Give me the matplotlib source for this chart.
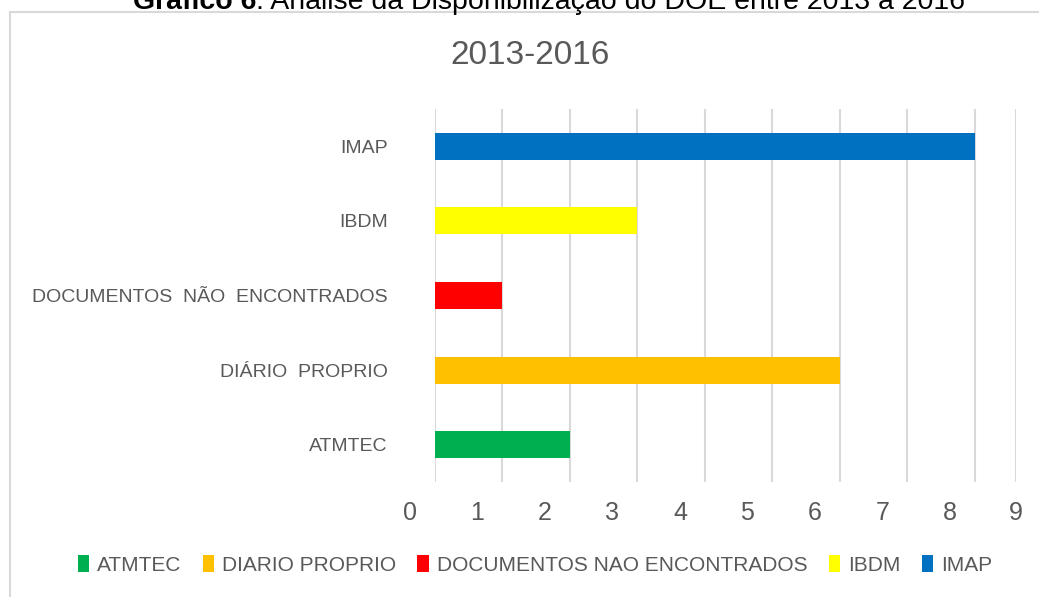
import matplotlib
matplotlib.use('Agg')
import matplotlib.pyplot as plt
from matplotlib.patches import Patch, Rectangle
from matplotlib.transforms import ScaledTranslation

# data (bottom to top, as in the chart)
categories = ['ATMTEC', 'DIÁRIO  PROPRIO', 'DOCUMENTOS  NÃO  ENCONTRADOS', 'IBDM', 'IMAP']
values = [2, 6, 1, 3, 8]
colors = ['#00B050', '#FFC000', '#FF0000', '#FFFF00', '#0070C0']
legend_labels = ['ATMTEC', 'DIARIO PROPRIO', 'DOCUMENTOS NAO ENCONTRADOS', 'IBDM', 'IMAP']
tick_labels = [str(i) for i in range(10)]

plt.rcParams['font.family'] = ['Liberation Sans', 'DejaVu Sans']
txt = '#595959'
grid_c = '#D9D9D9'

fig = plt.figure(figsize=(10.39, 5.97), dpi=100)
fig.patch.set_facecolor('white')

# chart frame (cut off at right and bottom in the source)
fig.patches.append(Rectangle((10 / 1039, -0.1), 1.2, 1 - 12 / 597 + 0.1,
                             transform=fig.transFigure, fill=False,
                             edgecolor=grid_c, linewidth=1.5))

ax = fig.add_axes([435 / 1039, 1 - 482 / 597, (1016 - 435) / 1039, (482 - 109) / 597])
xmax = 8.61
ax.barh(range(len(values)), values, height=0.36, color=colors, zorder=3)

# gridlines at 0..8 plus one at the cut edge, labelled 0..9
ax.set_xticks(list(range(9)) + [xmax])
ax.set_xticklabels(tick_labels, fontsize=18, color=txt)
ax.set_xlim(0, xmax)
ax.set_ylim(-0.5, len(values) - 0.5)
ax.grid(axis='x', color=grid_c, linewidth=1.5, zorder=0)
ax.tick_params(axis='x', length=0, pad=14)

# in the source the numbers sit left of their gridlines
shift = ScaledTranslation(-25 / 100, 0, fig.dpi_scale_trans)
for lab in ax.get_xticklabels()[:-1]:
    lab.set_transform(lab.get_transform() + shift)

ax.set_yticks(range(len(categories)))
ax.set_yticklabels(categories, fontsize=14, color=txt)
ax.tick_params(axis='y', length=0, pad=34)

for s in ax.spines.values():
    s.set_visible(False)

fig.text(0.51, 1 - 55 / 597, '2013-2016', ha='center', va='center',
         fontsize=24, color=txt)

# document caption, mostly cut off at the top
t1 = fig.text(133 / 1039, 1 - 9 / 597, 'Gráfico 6', fontweight='bold',
              fontsize=20.5, color='black', ha='left', va='baseline')
fig.text(0, 0, ': Análise da Disponibilização do DOE entre 2013 a 2016',
         fontsize=20.5, color='black', ha='left', va='baseline',
         transform=t1.get_transform() + ScaledTranslation(123 / 100, 0, fig.dpi_scale_trans),
         position=(133 / 1039, 1 - 9 / 597))

handles = [Patch(facecolor=c, edgecolor='none') for c in colors]
fig.legend(handles, legend_labels, loc='center', ncol=5,
           bbox_to_anchor=(0.515, 1 - 565 / 597), frameon=False,
           fontsize=15, labelcolor=txt, handlelength=0.55, handleheight=0.85,
           handletextpad=0.4, columnspacing=1.0)

fig.savefig('out.png', dpi=100)
